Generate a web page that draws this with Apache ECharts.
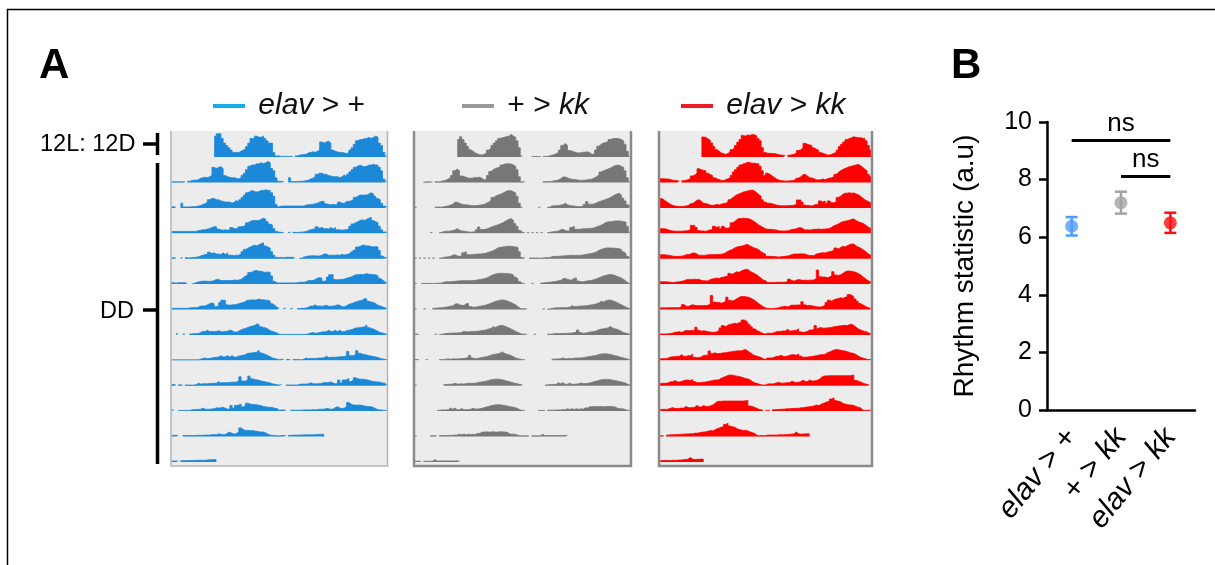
<!DOCTYPE html>
<html><head><meta charset="utf-8">
<script src="https://cdn.jsdelivr.net/npm/echarts@6/dist/echarts.min.js"></script>
<style>html,body{margin:0;padding:0;background:#fff}#c{width:1215px;height:565px}</style>
</head><body><div id="c"></div><script>
// ---------------- DATA ----------------
// Actogram: activity per 30-min bin (48 bins/day), 13 recorded days; null = not recorded
const N = null;
const genotypeNames = ['elav > +', '+ > kk', 'elav > kk'];

const elavPlusDays = [
 [N,N,N,N,N,N,N,N,N,N,N,N,N,N,N,N,N,N,N,9,10,10,8,6,5,4,3,2,2,2,2.5,3,3.5,4.5,6,8,8,9,8.5,8.5,9,8,7,6,6,2,0.5,0.5],
 [0.3,0.3,0.3,0.3,0.3,0.3,0,0.5,0.8,1,1,1.2,1.8,2,2.3,2,2.5,3,6.5,6,6.5,6.8,6,3,2.5,2.2,2,2,1.8,1.5,2,3,4,5.5,7,7.5,7.5,8,8,8.5,8,8.5,9,8.5,6,5,2,0.5],
 [0.5,0.3,0,0,2,0.4,0.4,0.4,0.5,0.5,0.6,0.8,1,1.5,1.8,2.5,3.5,4,4,3.5,3.5,3,2.8,2.5,2.5,2.5,2,2.5,3.2,2.5,3.5,4.5,5.5,6.5,7,7.5,7,6.8,7,7.5,7.5,7.8,7.5,7.5,6.5,5,1.5,0.5],
 [0.8,0.8,0.8,0.8,0.8,0.8,0.8,0.8,0.8,0.8,0.8,1.2,1.3,1.5,1.5,1.8,2,2.5,2.8,2.8,1.8,1.5,1.3,1.5,1.3,1.5,2.5,2,2,2.8,2.8,3,3.5,4.5,5,5.5,5.5,5.5,5.5,6,6.5,6,5,4,3.5,2,0.8,0.5],
 [0.4,0.2,0,0,0.4,0,0.4,0.3,0.5,0.5,0.6,0.8,1.2,1.5,1.8,1.8,2.8,2.2,2.5,2,2,1.8,2.5,1.8,2.5,1.5,1.5,1.3,1.5,1.5,2,3,4,4.5,5,5.5,5.8,5.5,6,6.5,6.8,5.5,5,4.5,3,1.5,0.6,0.4],
 [0.6,0.4,0.6,0.6,0.6,0.6,0.3,0,0,0.2,0.7,0.9,1.2,1.2,1.3,1.2,1.2,1.2,1.5,2,2,1.5,1.5,1.5,1.5,1.6,1.5,1.8,1.6,1.8,2,2.8,3.5,4,5,5.2,5.8,5.8,5.5,5.5,5.2,5,5.2,5,3.5,1.2,0.5,0.5],
 [0.5,0.5,0.5,0.5,0.5,0.5,0.5,0.6,0.8,0.8,0.8,1,1.5,1.5,1.5,2,2.5,2.8,2.5,1.2,1.5,3,4,4,2,1.8,2,2,2.2,2.5,2.8,3,3.5,4,4,4.2,4,4.2,4.5,4.2,4.2,4,4,3.5,2.5,1.8,1,0.5],
 [0,0,0.5,0,0,0.4,0,0,0.4,0.5,0.5,0.6,1,1.5,1.4,2,1.4,1.5,1.4,1.5,1.8,1.4,1.3,1.5,1.6,2,1.8,1.2,1.2,1.6,2.2,2.5,2.8,3.2,3.5,3.8,4,4.7,4.5,3.5,3.2,3,2.5,1.8,1.5,1.2,0.8,0.3],
 [0.2,0.2,0.2,0.2,0.2,0.2,0.2,0.2,0.2,0.2,0.2,0.2,0.5,0.8,1,0.7,0.8,1,1.2,1.3,1.4,2,1.4,1.5,2,1.4,2,1.3,1.4,1.8,2,2.2,2.5,3,3,3.2,3.3,3.5,4.3,3.2,2.8,2.5,2,1.5,1,0.8,0.5,0.2],
 [0.5,0.3,0,0.4,0.2,0,0.3,0.3,0.3,0.2,0.5,1,0.7,0.8,0.8,0.8,0.9,1,1,1.1,1.7,1.2,1.3,1.3,1.3,1.4,1.5,1.5,1.6,2,3.8,2,2,2.5,4.1,3,2.7,2.5,2.3,2,1.8,1.6,1.4,1.2,0.8,0.6,0.4,0.3],
 [0.5,0,0,0.3,0.3,0.3,0.3,0.3,0.5,0.7,0.7,0.7,0.8,1.3,0.8,0.8,0.8,0.9,1,1.4,1.3,1.4,1.6,1.2,0.8,1,2.4,1.2,2.4,2.6,3.1,1.8,2.5,3.4,3,2.8,2.8,2.7,2.5,2.3,2,1.8,1.7,1.6,1.5,1.2,1.1,0.3],
 [0.5,0.5,0.3,0,0,0.4,0.4,0.4,0.4,0.4,0.5,0.5,0.5,0.5,0.6,0.6,0.6,0.8,0.8,0.8,1.1,1,0.8,0.9,1.5,1.9,1.3,1.1,1.3,2,3.7,3,2.6,2.6,2.5,2.6,2.4,2.2,2,1.9,1.9,1.5,1,0.6,0.5,0.4,0.3,0.3],
 [0.4,0.4,0.4,0,0.5,0.5,0.6,0.6,0.6,0.6,0.7,0.7,0.7,0.7,0.7,0.8,0.9,0.9,1,0.9]
];

const plusKkDays = [
 [N,N,N,N,N,N,N,N,N,N,N,N,N,N,N,N,N,N,N,7.5,8.7,7.5,6,4.5,3.2,2.5,1.8,1.4,1,0.9,1.2,1.8,3,3.8,5,6,7,8,8.3,8.5,8.8,9,9.7,9,8.5,7,4,0.5],
 [0,0,0,0,0.2,0.3,0.2,0.3,0,0.3,0.3,0.5,0.8,1,1.5,2,3,5,5.8,5,2.8,2.6,2.2,1.9,1.8,1.9,2.1,2.1,2.3,1.8,1.1,1.5,3,4.7,5.5,6.1,6.3,6.6,7.5,7.9,8,8,7.9,7.5,6.9,5.5,2.5,0.3],
 [0.3,0,0,0,0,0,0,0,0,0.3,0.4,0.3,0.5,0.7,0.8,1.2,1.6,2.4,2.4,2,1.6,1.4,1.3,1.2,1,0.9,1,1,1.2,1.3,1.5,2,2.5,3.3,4.5,5,5.4,5.8,6.2,6.7,7.2,7.4,7.4,6.9,6.4,5,2,0.3],
 [0,0,0,0,0,0,0,0.3,0,0,0,0.3,0.8,0.9,0.9,1,1.2,1.4,2,1.4,1,0.9,0.8,0.6,0.5,0.6,0.6,1.5,2.7,1.6,1.6,1.8,2.2,2.6,3,3.3,3.6,4,4.4,5,5.5,6,6.3,5.5,4.2,3,1.3,0.5],
 [0.3,0,0.3,0,0.3,0,0.3,0,0.3,0,0,0.3,0.6,0.7,0.8,1,1.5,1.7,1.2,1,1,2.5,3,1.7,1.7,1.8,1.9,2,2,2.1,2.2,2.4,2.8,3.1,3.5,4,4.6,4.9,5,5.1,5.3,5.3,5.3,5.2,5,4.8,3,0.5],
 [0.3,0,0,0.3,0.3,0.3,0.3,0.2,0.3,0.4,0.4,0.5,0.8,1,1,1,1.1,1.2,1.3,1.4,1.4,1.5,1.4,1.5,1.4,1.5,1.6,1.8,2,2.1,2.3,2.6,3,3.6,4,4.3,4.6,4.6,4.6,4.6,4.5,4.4,4.3,3.9,3,2.2,1,0.3],
 [0.3,0,0,0,0.3,0,0,0,0.5,0.6,0.7,0.8,0.9,1,1.2,1.4,1.5,2.3,2.5,2,1.8,1.7,2.5,2.6,1.3,1,1,1.2,1.4,1.5,1.7,2,2.3,2.7,3.1,3.5,3.7,4,4.1,4,3.8,3.3,3,2.5,2,1.2,0.5,0.3],
 [0.3,0.3,0,0,0,0,0,0,0,0.3,0,0.2,0.4,0.6,0.7,0.7,0.8,0.8,0.8,0.9,1,1.6,1.3,1.3,1.4,1.5,1.5,1.6,1.7,1.9,2,2.2,2.5,2.8,3.5,3.2,3.7,4,4.1,3.8,3.4,3,2.5,2,1.5,1,0.6,0.3],
 [0.3,0.3,0,0,0,0.3,0,0,0,0,0,0.3,0.3,0.5,0.6,0.5,0.6,0.6,0.6,0.7,0.7,0.8,1,1.2,2.1,1,0.7,0.8,1,1.2,1.4,1.5,1.8,2.2,2.5,2.6,2.8,3,3.6,3,2.6,2.4,2,1.5,1,0.7,0.5,0.3],
 [0.3,0,0,0,0,0,0,0,0,0,0,0,0,0.5,0.6,0.6,0.7,1,0.7,0.7,0.8,0.7,0.9,1,1,1,1.1,1.3,1.5,1.6,1.8,2,2.2,2.5,2.7,2.8,2.8,2.7,2.5,2.3,2,1.8,1.5,1.2,1,0.7,0.5,0.3],
 [0,0,0,0,0,0,0,0,0,0,0.3,0.5,0.5,0.5,0.6,1.3,0.8,1.3,0.6,0.6,1.1,0.6,0.6,0.7,0.8,1.2,0.9,0.9,1,1.2,1.5,1.8,2,2.3,2.5,2.7,2.7,2.7,2.6,2.4,2.2,2,1.8,1.6,1.4,1,0.5,0.3],
 [0.3,0,0,0,0,0,0,0.3,0.3,0.3,0,0.4,0.4,0.4,0.5,0.5,0.5,0.6,0.6,1,0.7,1,0.7,1,0.7,1,0.8,1.4,1.3,1.9,1.9,2,1.9,1.9,2,1.9,1.9,2,2,1.9,1.9,1.3,1,1,0.9,0.5,0.3,0.3],
 [0.3,0.3,0.3,0,0.3,0.3,0.3,0.3,1,0.4,0.4,0.4,0.4,0.4,0.4,0.4,0.4,0.4,0.5,0.4]
];

const elavKkDays = [
 [N,N,N,N,N,N,N,N,N,N,N,N,N,N,N,N,N,N,N,8.6,8.5,7.8,7.2,6,4.5,3.3,2.5,1.8,1.4,1.2,1.5,2.3,3.2,4,5,6.4,7.5,9.3,9,9.5,9.3,9.7,9.5,9.2,8,7,4,2],
 [1.6,1.6,1.5,1.5,1.3,1,0.9,0.8,0.6,0,0.8,1,1.2,1.8,2.8,3.2,4,5.9,5.5,5.2,5,4,3.4,3,2,1.6,1.3,0.9,0.9,1.2,1.6,2,3,4.5,5.5,6.5,7.5,8,8.3,8.7,8.5,8.3,8.3,8.1,8,7,5,3],
 [4,3.5,2.8,2.2,1.5,1.1,0.8,0.7,0.6,0.6,0.7,0.8,1,1.8,1.9,2.5,3.3,3.5,2.8,2,1.9,1.6,1.2,1.1,1.2,1.5,1.2,1.6,1.9,2,2.5,3.5,4.3,5,5.6,6,6.4,6.8,7,7.3,7.5,7.7,7.3,6.5,5.7,5,3.5,2.5],
 [2,2,1.8,1.5,1.2,1,0.9,0.9,0.9,0.9,1,1,1.2,1.5,3.4,3.4,2.5,1.2,1,1,0.8,1.2,1.5,1.5,3,2.5,3,2,3,2.2,2.2,2.5,4.5,5,5.8,6.3,6.3,6.5,6.3,6.4,6,5.6,5,4.3,3.5,3,2.5,2],
 [1.7,1.7,1.6,1.5,1.4,1.1,1,1,1,1.1,1.3,1.7,1.7,2,2.4,2.4,2,1.4,1.5,1.4,1.5,1.7,1.7,1.8,1.7,1.8,1.8,1.9,2.1,2.6,3.2,3.6,4,4.6,5,5.2,5.4,5.6,6,6.1,5.5,5,4.6,4.3,3.8,3,2.4,2],
 [1,1,1,0.9,0.8,0.7,0.8,0.9,1,1.2,1.4,1.8,2,2,2,2.1,2,2,1.6,1.4,1.4,1.3,2,2.2,2.4,2.6,2.4,2.8,3,3.2,3.6,4.6,4.2,4.8,5.3,5,5.6,6,6.3,6.3,5.5,5,4.6,4,3.3,2.5,1.8,1.4],
 [0.7,0.7,0.7,0.7,0.8,0.8,0.8,0.8,0.8,1.2,2.1,1.5,1.3,1.7,2,1.8,1.6,1.7,1.6,1.7,1.7,1.8,2.5,6,3.2,3,3,2.7,3,3.6,5.3,3.9,3.7,4,4.6,5.2,5.6,5.6,5.5,5.3,5,4.5,4,3.2,2.5,1.8,1.2,0.7],
 [0.4,0.4,0.4,0.5,0.6,0.8,1.1,1.2,1.4,1.1,1.5,1.9,1.8,1.9,1.9,2,3.3,2,1.6,1.8,1.6,1.4,1.2,1.1,1.1,1.3,2,3,4,3.5,4.2,4.5,4.7,5,4.8,5.2,5.5,6.4,6.2,5.4,4.5,3.5,2.6,2,1.5,1,0.6,0.4],
 [0.7,0.7,0.7,1,1.4,1.5,1.5,1.7,1.7,2.4,1.7,1.7,1.9,2,2.6,1.3,1.1,1.2,1.5,2.1,2.1,2.3,4,2.8,3.2,2.9,2.9,3,3.2,3.2,3.5,3.6,3.8,3.9,4,4.1,4,4.4,4.6,4,3.3,2.6,2.1,1.8,1.5,1.2,0.7,0.4],
 [1,1,1,1.3,1.7,1.7,2.2,1.7,1.6,1.8,2.2,2.4,2.4,2.2,2.7,1.8,1.3,1.3,1.4,1.5,1.6,1.8,2,2.2,2.4,2.4,2.6,3.2,3.6,4,4.4,4.6,4.5,4.3,4.1,4,3.7,3.4,3.1,2.9,2.5,1.8,1.3,1,0.7,0.4,0.3,0.3],
 [0.7,0.8,0.7,0.9,1.2,1.5,1.1,1.1,1.2,1.3,1.3,2,1.5,1.4,1.5,1.7,2.4,1.8,1.8,2.4,2,2,2.2,2.6,3.2,4,4.2,4.2,4.3,4.3,4.3,4.3,4.3,4.3,4.3,4.3,4.3,4.3,4.4,4.6,2.2,2,1.6,1.2,0.8,0.6,0.3,0],
 [0.3,0.3,0,0.6,0.7,0.7,0.8,0.8,0.9,1,1,1.1,1.1,1.2,1.2,1.4,1.4,1.6,1.8,1.9,2,2.2,2.6,2.4,2.8,3.3,3.6,4,4.2,5.2,5.7,4.5,4.2,4,3.4,3,2.8,2.6,2.6,2.4,2,1.6,1.4,0.6,0.3,0.4,0.4,0.4],
 [0.6,0.6,0.6,0.6,0.6,0.7,0.7,0.7,0.8,0.8,1,1,1.2,1.9,1.2,1,1.1,1.1,1.2,1.1]
];

// Panel B: rhythm statistic (mean ± SEM)
const rhythmCategories = ['elav > +', '+ > kk', 'elav > kk'];
const rhythmMean = [6.38, 7.2, 6.5];
const rhythmSem = [0.32, 0.38, 0.35];
const rhythmTicks = [0, 2, 4, 6, 8, 10];
const sigBars = [
  {from: 'elav > +', to: 'elav > kk', y: 9.35, label: 'ns'},
  {from: '+ > kk', to: 'elav > kk', y: 8.1, label: 'ns'}
];
const dayLabels = ['12L: 12D', 'DD'];

// ---------------- STYLE / LAYOUT ----------------
const FONT = "'Liberation Sans', Arial, Helvetica, sans-serif";
const actoColors = ['#1b88d8', '#777777', '#ff0000'];
const legendColors = ['#16aeea', '#999999', '#ee1c25'];
const pointColors = ['#4f9cf7', '#a3a3a3', '#ff1010'];
const panelLeft = [171.5, 414.5, 659.5];
const panelWidth = [215.5, 216, 212];
const rowTop0 = 131.7, rowH = 25.4, nRows = 13, BINS = 48;
const YMAX = 10.9;

function rich(name) {
  // italic gene names
  return name.replace(/(elav|kk)/g, '{i|$1}').replace(/(^|\})([^{]+)(?=\{|$)/g, function (m, a, b) { return a + '{n|' + b + '}'; });
}

function rowPoints(days, r) {
  const a = days[r] || [], b = days[r + 1] || [];
  const vals = [];
  for (let i = 0; i < BINS; i++) vals.push(a[i] == null ? null : a[i]);
  for (let i = 0; i < BINS; i++) vals.push(b[i] == null ? null : b[i]);
  const pts = [];
  for (let i = 0; i < vals.length; i++) {
    const v = vals[i];
    if (v == null || v <= 0) { pts.push([i, '-']); continue; }
    pts.push([i, v]);
    const nv = vals[i + 1];
    if (i === vals.length - 1 || nv == null || nv <= 0) pts.push([i + 1, v]);
  }
  return pts;
}

const allDays = [elavPlusDays, plusKkDays, elavKkDays];
const grid = [], xAxis = [], yAxis = [], series = [];
for (let p = 0; p < 3; p++) {
  for (let r = 0; r < nRows; r++) {
    const gi = grid.length;
    grid.push({left: panelLeft[p], width: panelWidth[p], top: rowTop0 + r * rowH, height: rowH, containLabel: false});
    xAxis.push({type: 'value', gridIndex: gi, min: 0, max: 2 * BINS, show: false});
    yAxis.push({type: 'value', gridIndex: gi, min: 0, max: YMAX, show: false});
    series.push({
      type: 'line', name: genotypeNames[p], xAxisIndex: gi, yAxisIndex: gi,
      data: rowPoints(allDays[p], r), step: 'end', symbol: 'none', showSymbol: false,
      connectNulls: false, silent: true, z: 3,
      itemStyle: {color: actoColors[p]},
      lineStyle: {color: actoColors[p], width: 0.8},
      areaStyle: {color: actoColors[p], opacity: 1}
    });
  }
}

// Panel B grid
const gB = grid.length;
grid.push({left: 1047, top: 122, width: 148, height: 288});
const labelRich = {i: {fontStyle: 'italic', fontSize: 30, fontFamily: FONT, color: '#000'}, n: {fontSize: 30, fontFamily: FONT, color: '#000'}};
xAxis.push({
  type: 'category', gridIndex: gB, data: rhythmCategories,
  axisLine: {lineStyle: {color: '#000', width: 2.5}},
  axisTick: {alignWithLabel: true, length: 8, lineStyle: {color: '#000', width: 2.5}},
  axisLabel: {rotate: 51, margin: 22, interval: 0, hideOverlap: false, color: '#000', fontSize: 30, fontFamily: FONT,
    formatter: v => rich(v), rich: labelRich}
});
yAxis.push({
  type: 'value', gridIndex: gB, min: rhythmTicks[0], max: rhythmTicks[rhythmTicks.length - 1], interval: 2,
  name: 'Rhythm statistic (a.u)', nameLocation: 'middle', nameGap: 68,
  nameTextStyle: {fontSize: 28, color: '#000', fontFamily: FONT},
  axisLine: {show: true, lineStyle: {color: '#000', width: 2.5}},
  axisTick: {show: true, length: 8, lineStyle: {color: '#000', width: 2.5}},
  splitLine: {show: false},
  axisLabel: {fontSize: 25, color: '#000', fontFamily: FONT, margin: 15}
});
series.push({
  type: 'custom', xAxisIndex: gB, yAxisIndex: gB, z: 4,
  data: rhythmCategories.map((c, i) => [i, rhythmMean[i] - rhythmSem[i], rhythmMean[i] + rhythmSem[i]]),
  renderItem: function (params, api) {
    const i = api.value(0);
    const lo = api.coord([i, api.value(1)]), hi = api.coord([i, api.value(2)]);
    const hw = 6, col = pointColors[params.dataIndex];
    const st = {stroke: col, lineWidth: 2.5};
    return {type: 'group', children: [
      {type: 'line', shape: {x1: lo[0], y1: lo[1], x2: hi[0], y2: hi[1]}, style: st},
      {type: 'line', shape: {x1: lo[0] - hw, y1: lo[1], x2: lo[0] + hw, y2: lo[1]}, style: st},
      {type: 'line', shape: {x1: hi[0] - hw, y1: hi[1], x2: hi[0] + hw, y2: hi[1]}, style: st}
    ]};
  }
});
series.push({
  type: 'scatter', xAxisIndex: gB, yAxisIndex: gB, z: 5, symbolSize: 13,
  data: rhythmMean.map((m, i) => ({value: [i, m], itemStyle: {color: pointColors[i]}})),
  markLine: {
    silent: true, symbol: ['none', 'none'], animation: false,
    lineStyle: {color: '#000', width: 3.2, type: 'solid'},
    label: {show: true, position: 'insideMiddleTop', distance: 4, fontSize: 26, color: '#000', fontFamily: FONT},
    data: sigBars.map(s => [
      {coord: [s.from, s.y], label: {formatter: s.label}},
      {coord: [s.to, s.y]}
    ])
  }
});

// legends
const legendLeft = [213, 462, 681];
const legend = genotypeNames.map((n, p) => ({
  data: [{name: n, itemStyle: {color: legendColors[p]}}],
  left: legendLeft[p], top: 91, padding: 0, icon: 'rect', itemWidth: 32, itemHeight: 4,
  selectedMode: false,
  formatter: name => ' ' + rich(name),
  textStyle: {fontSize: 30, color: '#111', fontFamily: FONT,
    rich: {i: {fontStyle: 'italic', fontSize: 30, fontFamily: FONT, color: '#111'}, n: {fontSize: 30, fontFamily: FONT, color: '#111'}}}
}));

// decorations: panel backgrounds/borders, left labels, brackets, titles, frame
const graphic = [];
const panelTop = 131, panelBottom = 466;
const borderCol = ['#b4b4b4', '#8a8a8a', '#8a8a8a'];
const borderW = [1.5, 2.5, 2.5];
for (let p = 0; p < 3; p++) {
  const L = panelLeft[p] - 0.5, R = panelLeft[p] + panelWidth[p] + 0.5;
  graphic.push({type: 'rect', z: -10, shape: {x: L, y: panelTop, width: R - L, height: panelBottom - panelTop}, style: {fill: '#ececec'}});
  graphic.push({type: 'polyline', z: 10, shape: {points: [[L, panelTop], [L, panelBottom], [R, panelBottom], [R, panelTop]]},
    style: {stroke: borderCol[p], lineWidth: borderW[p], fill: null}});
}
graphic.push({type: 'text', z: 10, style: {x: 40, y: 145, text: dayLabels[0], font: '23.5px ' + FONT, fill: '#000', textVerticalAlign: 'middle'}});
graphic.push({type: 'text', z: 10, style: {x: 134, y: 312, text: dayLabels[1], font: '23.5px ' + FONT, fill: '#000', textAlign: 'right', textVerticalAlign: 'middle'}});
const br = {stroke: '#000', lineWidth: 3.5};
graphic.push({type: 'line', z: 10, shape: {x1: 157.5, y1: 133, x2: 157.5, y2: 155}, style: br});
graphic.push({type: 'line', z: 10, shape: {x1: 143, y1: 144, x2: 157.5, y2: 144}, style: br});
graphic.push({type: 'line', z: 10, shape: {x1: 157.5, y1: 163, x2: 157.5, y2: 464}, style: br});
graphic.push({type: 'line', z: 10, shape: {x1: 143, y1: 310, x2: 157.5, y2: 310}, style: br});
graphic.push({type: 'text', z: 10, style: {x: 39, y: 66, text: 'A', font: 'bold 42px ' + FONT, fill: '#000', textVerticalAlign: 'middle'}});
graphic.push({type: 'text', z: 10, style: {x: 951, y: 66, text: 'B', font: 'bold 42px ' + FONT, fill: '#000', textVerticalAlign: 'middle'}});
graphic.push({type: 'polyline', z: 10, shape: {points: [[7.5, 565], [7.5, 9.5], [1215, 9.5]]}, style: {stroke: '#000', lineWidth: 1.5, fill: null}});

const chart = echarts.init(document.getElementById('c'), null, {renderer: 'canvas'});
chart.setOption({
  animation: false,
  backgroundColor: '#fff',
  textStyle: {fontFamily: FONT},
  grid, xAxis, yAxis, series, legend, graphic
});
</script></body></html>
